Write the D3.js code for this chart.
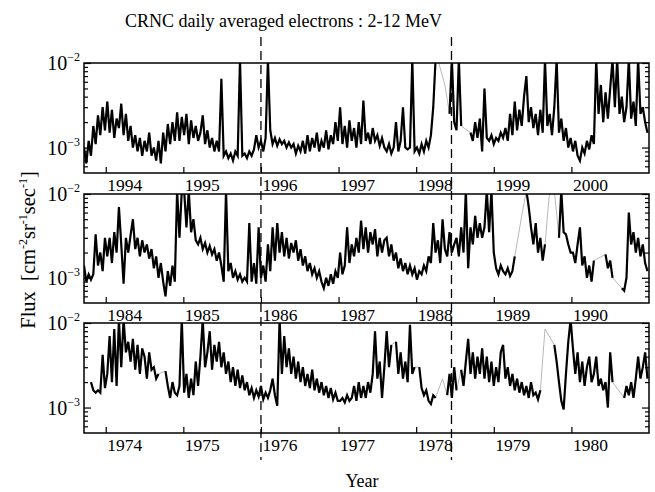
<!DOCTYPE html>
<html>
<head>
<meta charset="utf-8">
<script src="https://cdn.jsdelivr.net/npm/d3@7"></script>
<style>
  body { margin: 0; background: #fff; }
  text { font-family: "Liberation Serif", "DejaVu Serif", serif; fill: #000; }
</style>
</head>
<body>
<svg id="chart" width="655" height="492"></svg>
<script>
// sampling of the daily series (years) and first sample of each panel
const step = 0.03;
const panelStarts = [1993.72, 1983.72, 1973.72];
const panelSpan = 7.28;

const yearTicks = [
  [1994, 1995, 1996, 1997, 1998, 1999, 2000],
  [1984, 1985, 1986, 1987, 1988, 1989, 1990],
  [1974, 1975, 1976, 1977, 1978, 1979, 1980]
];

// dashed markers, given in top-panel years (same phase in every panel)
const markerYears = [1996.0, 1998.455];

const majorTicks = [1e-3, 1e-2];
const minorTicks = [6e-4, 7e-4, 8e-4, 9e-4, 2e-3, 3e-3, 4e-3, 5e-3, 6e-3, 7e-3, 8e-3, 9e-3];

// flux in units of 1e-4 cm^-2 sr^-1 s^-1, null = no data (gray bridge)
const flux1994 = [
  10, 6.5, 12, 8, 18, 11, 24, 14, 30, 16,
  35, 15, 28, 13, 22, 17, 33, 14, 25, 12,
  18, 10, 14, 9, 13, 8, 12, 9, 15, 8,
  10, 7, 12, 6.5, 15, 9, 19, 11, 20, 12,
  26, 12, 23, 14, 25, 11, 21, 13, 18, 12,
  15, 24, 11, 16, 10, 13, 9, 12, 9, 65,
  8, 9, 7.5, 8.5, 7, 9, 8, 110, 8, 8.5,
  7.5, 9, 8, 9.5, 14, 10, 12, 9, 13, 110,
  16, 11, 13, 10.5, 12.5, 11, 12, 10, 11.5, 10,
  11, 8.5, 10.5, 9, 12, 8.5, 14, 9, 13, 10,
  15, 9, 12, 10, 16, 9.5, 14, 11, 20, 12,
  30, 11, 18, 10, 21, 12, 17, 10, 20, 11,
  36, 12, 15, 11, 17, 12, 14, 10.5, 13, 10,
  9, 11, 8.5, 10, 20, 9, 12, 30, 10, 9.5,
  10, 110, 9, 10, 8.5, 11, 9, 12, 10, 14,
  30, 110, 110, null, null, 55, null, 25, 110, 20,
  16, 110, 18, null, null, null, 15, 12, 20, 13,
  22, 9, 50, 13, 12, 14, 11, 13, 12, 15,
  13, 17, 12, 25, 14, 35, 16, 28, 18, 40,
  70, 20, 30, 17, 25, 14, 28, 15, 110, 18,
  25, 14, 30, 110, 15, 22, 12, 17, 10, 13,
  9, 12, 8, 7, 10, 8.5, 12, 9.5, 14, 11,
  110, 25, 55, 20, 45, 22, 50, 110, 30, 110,
  25, 40, 20, 30, 110, 22, 35, 18, 110, 25,
  30, 20, 15
];

const flux1984 = [
  14, 9, 11, 9.5, 11, 33, 14, 20, 12, 30,
  18, 30, 15, 35, 20, 70, 25, 8.5, 30, 20,
  32, 50, 22, 30, 18, 28, 20, 25, 17, 22,
  13, 18, 10, 15, 9, 6, 12, 8, 14, 9,
  110, 30, 110, 110, 40, 110, 35, 50, 28, 25,
  30, 22, 26, 20, 24, 19, 22, 16, 20, 14,
  9, 110, 12, 15, 10, 12, 9.5, 11, 9, 10,
  9, 45, 9, 15, 8.5, 40, 10, 14, 9, 25,
  12, 40, 16, 45, 20, 35, 18, 30, 17, 26,
  20, 28, 16, 22, 14, 18, 12, 15, 11, 13,
  10, 12, 9, 7.5, 10, 8, 11, 8.5, 12, 10,
  20, 11, 14, 40, 15, 25, 18, 30, 20, 48,
  22, 40, 20, 35, 25, 38, 18, 30, 20, 28,
  30, 18, 25, 16, 20, 13, 17, 12, 15, 11,
  14, 11, 13, 9.5, 12, 11, 14, 12, 18, 15,
  45, 20, 28, 15, 50, 22, 18, 35, 20, 25,
  30, 18, 40, 20, 110, 13, 40, 25, 55, 30,
  45, 30, 40, 110, 35, 110, 20, 13, 11, 14,
  12, 11, 13, 10.5, 12, 18, null, null, 55, null,
  110, 70, 40, 25, 45, 20, 30, 16, 25, null,
  110, null, 110, null, 30, 110, 35, 33, 25, 20,
  20, 15, 25, 40, 14, 18, 10, 14, 9, 16,
  null, null, null, null, 19, 13, 16, 10, null, null,
  null, 7.5, 7, 10, 60, 25, 35, 20, 30, 18,
  25, 15, 12
];

const flux1974 = [
  null, null, null, 20, 16, 15, 16, 15, 42, 17,
  25, 70, 20, 85, 18, 110, 30, 110, 45, 60,
  35, 65, 28, 55, 25, 50, 40, 22, 45, 28,
  30, 22, 25, null, null, 27, 18, 13, 20, 15,
  14, 18, 110, 15, 25, 13, 22, 14, 35, 18,
  40, 110, 30, 45, 80, 28, 55, 35, 60, 30,
  45, 25, 35, 20, 30, 18, 28, 17, 24, 16,
  20, 14, 17, 13, 16, 13.5, 18, 12.5, 15, 13,
  16, 22, 14, 10.5, 110, 25, 70, 30, 50, 25,
  40, 22, 35, 20, 30, 18, 25, 17, 28, 16,
  22, 15, 20, 14, 18, 13, 17, 12.5, 15, 12,
  12, 13, 11.5, 14, 12, 13, 18, 12, 20, 13,
  18, 13, 20, 15, 25, 80, 22, 35, 13, 30,
  80, 30, 55, null, 60, 25, 45, 22, 35, 20,
  95, 25, 30, null, 30, 17, 14, 16, 12, 11,
  14, 13, null, null, 22, null, 14, 25, 13, 30,
  16, null, 28, 18, 35, 65, 25, 45, 22, 40,
  25, 50, 22, 40, 20, 35, 18, 30, 20, 45,
  55, 22, 30, 18, 25, 16, 22, 15, 20, 14,
  18, 13, 20, 14, 15, 12.5, 16, null, 85, null,
  null, null, 55, 35, 20, 12, 9.5, 25, 60, 110,
  50, 25, 45, 20, 35, 18, 30, 40, 20, 25,
  40, 18, 22, 16, 20, 10, 45, 20, null, null,
  null, null, 13, 18, 14, 20, 13, 22, 40, 22,
  30, 45, 22
];

const panelData = [flux1994, flux1984, flux1974];

const svg = d3.select('#chart');
const left = 84, right = 649;
const boxes = [
  { top: 63, bottom: 173 },
  { top: 194, bottom: 303 },
  { top: 323, bottom: 433 }
];

panelData.forEach((series, p) => {
  const box = boxes[p];
  const start = panelStarts[p];
  const x = d3.scaleLinear().domain([start, start + panelSpan]).range([left, right]);
  const y = d3.scaleLog().domain([5e-4, 1e-2]).range([box.bottom, box.top]);

  const pts = series.map((v, i) => ({ t: start + i * step, v: v == null ? null : v * 1e-4 }));

  const g = svg.append('g');
  const clipId = 'clip' + p;
  svg.append('clipPath').attr('id', clipId)
    .append('rect').attr('x', left).attr('y', box.top)
    .attr('width', right - left).attr('height', box.bottom - box.top);

  const line = d3.line().x(d => x(d.t)).y(d => y(d.v));

  // gray bridges across gaps
  g.append('path')
    .datum(pts.filter(d => d.v != null))
    .attr('clip-path', `url(#${clipId})`)
    .attr('d', line)
    .attr('fill', 'none')
    .attr('stroke', '#b8b8b8')
    .attr('stroke-width', 1);

  g.append('path')
    .datum(pts)
    .attr('clip-path', `url(#${clipId})`)
    .attr('d', line.defined(d => d.v != null))
    .attr('fill', 'none')
    .attr('stroke', '#000')
    .attr('stroke-width', 2.2)
    .attr('stroke-linejoin', 'miter');

  // y ticks, inward on both sides
  const noDomain = s => s.select('.domain').remove();
  g.append('g').attr('transform', `translate(${left},0)`)
    .call(d3.axisLeft(y).tickValues(minorTicks).tickSize(-4).tickFormat('')).call(noDomain);
  g.append('g').attr('transform', `translate(${left},0)`)
    .call(d3.axisLeft(y).tickValues(majorTicks).tickSize(-7).tickFormat('')).call(noDomain);
  g.append('g').attr('transform', `translate(${right},0)`)
    .call(d3.axisRight(y).tickValues(minorTicks).tickSize(-4).tickFormat('')).call(noDomain);
  g.append('g').attr('transform', `translate(${right},0)`)
    .call(d3.axisRight(y).tickValues(majorTicks).tickSize(-7).tickFormat('')).call(noDomain);

  // x ticks, inward at the bottom, labels start at the tick
  const xa = g.append('g').attr('transform', `translate(0,${box.bottom})`)
    .call(d3.axisBottom(x).tickValues(yearTicks[p]).tickSize(-6).tickFormat(d3.format('d')))
    .call(noDomain);
  xa.selectAll('text')
    .attr('text-anchor', 'start')
    .attr('x', 1)
    .attr('y', 18)
    .attr('dy', null)
    .style('font-size', '17.5px');

  g.selectAll('.tick line').attr('stroke', '#000').attr('stroke-width', 1.2);

  // frame
  g.append('rect')
    .attr('x', left).attr('y', box.top)
    .attr('width', right - left).attr('height', box.bottom - box.top)
    .attr('fill', 'none').attr('stroke', '#000').attr('stroke-width', 1.5);

  // y tick labels 10^-n
  majorTicks.forEach(v => {
    const t = g.append('text')
      .attr('x', left - 4).attr('y', y(v) + 7)
      .attr('text-anchor', 'end')
      .style('font-size', '20px');
    t.append('tspan').text('10');
    t.append('tspan').attr('dy', -9).style('font-size', '12px').text(d3.format('d')(Math.log10(v)));
  });
});

// dashed event markers
const xTop = d3.scaleLinear().domain([panelStarts[0], panelStarts[0] + panelSpan]).range([left, right]);
svg.selectAll('.marker')
  .data(markerYears)
  .enter().append('line')
  .attr('class', 'marker')
  .attr('x1', d => xTop(d)).attr('x2', d => xTop(d))
  .attr('y1', 37).attr('y2', 460)
  .attr('stroke', '#000').attr('stroke-width', 1.3)
  .attr('stroke-dasharray', '9,5');

// title
svg.append('text')
  .attr('x', 125).attr('y', 27)
  .style('font-size', '18px')
  .text('CRNC daily averaged electrons : 2-12 MeV');

// y label
const yl = svg.append('text')
  .attr('transform', 'translate(35,250) rotate(-90)')
  .attr('text-anchor', 'middle')
  .style('font-size', '20.5px');
yl.append('tspan').text('Flux\u00a0\u00a0[cm');
yl.append('tspan').attr('dy', -8).style('font-size', '12px').text('-2');
yl.append('tspan').attr('dy', 8).text('sr');
yl.append('tspan').attr('dy', -8).style('font-size', '12px').text('-1');
yl.append('tspan').attr('dy', 8).text('sec');
yl.append('tspan').attr('dy', -8).style('font-size', '12px').text('-1');
yl.append('tspan').attr('dy', 8).text(']');

// x label
svg.append('text')
  .attr('x', 362).attr('y', 487)
  .attr('text-anchor', 'middle')
  .style('font-size', '18px')
  .text('Year');
</script>
</body>
</html>
